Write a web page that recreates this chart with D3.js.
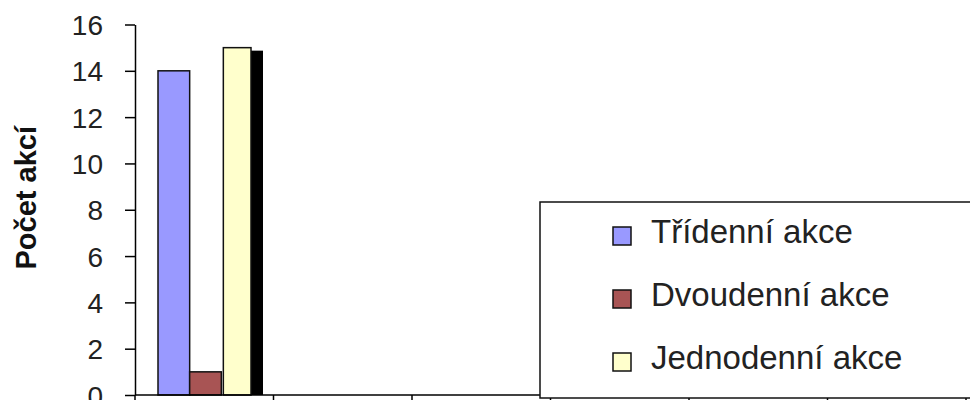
<!DOCTYPE html>
<html>
<head>
<meta charset="utf-8">
<script src="https://cdn.jsdelivr.net/npm/d3@7"></script>
<style>
	body { margin: 0; background: #fff; }
	svg { display: block; font-family: "Liberation Sans", Arial, sans-serif; }
	.axis path, .axis line { stroke: #000; stroke-width: 1.5; }
	.axis text { font-size: 28px; fill: #222; }
</style>
</head>
<body>
<div id="chart"></div>
<script>
// data (category names fall below the visible area)
var categories = ["1", "2", "3", "4", "5", "6"];
var seriesNames = ["Třídenní akce", "Dvoudenní akce", "Jednodenní akce"];
var seriesColors = ["#9999ff", "#a85454", "#ffffcc"];
var tridenni = [14, null, null, null, null, null];
var dvoudenni = [1, null, null, null, null, null];
var jednodenni = [15, null, null, null, null, null];
var yTicks = [0, 2, 4, 6, 8, 10, 12, 14, 16];

var values = [tridenni, dvoudenni, jednodenni];

var width = 970,
	height = 400,
	margin = {top: 24.5, left: 135, bottom: 5, right: 4};

var svg = d3.select("#chart").append("svg")
	.attr("width", width)
	.attr("height", height);

var x0 = d3.scaleBand()
	.domain(categories)
	.range([margin.left, width - margin.right]);

var x1 = d3.scaleBand()
	.domain(seriesNames)
	.range([23, 118]);

var y = d3.scaleLinear()
	.domain([0, 16])
	.range([height - margin.bottom, margin.top]);

/* bars */

var bars = [];
values.forEach(function(arr, s) {
	arr.forEach(function(v, i) {
		if (v != null) bars.push({cat: categories[i], s: s, v: v});
	});
});

var g = svg.append("g");

// shadow behind the last series
g.selectAll(".shadow")
	.data(bars.filter(function(d) { return d.s == 2; }))
	.enter().append("rect")
	.attr("class", "shadow")
	.attr("x", function(d) { return x0(d.cat) + x1(seriesNames[d.s]) + 14; })
	.attr("y", function(d) { return y(d.v) + 3; })
	.attr("width", x1.bandwidth() - 4)
	.attr("height", function(d) { return y(0) - y(d.v) - 3; })
	.attr("fill", "#000");

g.selectAll(".bar")
	.data(bars)
	.enter().append("rect")
	.attr("class", "bar")
	.attr("x", function(d) { return x0(d.cat) + x1(seriesNames[d.s]) + (d.s == 2 ? 2 : 0); })
	.attr("y", function(d) { return y(d.v); })
	.attr("width", function(d) { return x1.bandwidth() - (d.s == 2 ? 4 : 0); })
	.attr("height", function(d) { return y(0) - y(d.v); })
	.attr("fill", function(d) { return seriesColors[d.s]; })
	.attr("stroke", "#111")
	.attr("stroke-width", 1.5);

/* axes */

svg.append("g")
	.attr("class", "axis axis--y")
	.attr("transform", "translate(" + margin.left + ",0)")
	.call(d3.axisLeft(y).tickValues(yTicks).tickSize(10).tickPadding(22).tickSizeOuter(0))
	.call(function(a) { a.selectAll("text").attr("dy", "0.36em"); });

var xAxis = svg.append("g")
	.attr("class", "axis axis--x");

xAxis.append("line")
	.attr("x1", x0.range()[0])
	.attr("x2", x0.range()[1])
	.attr("y1", y(0))
	.attr("y2", y(0));

// ticks on category boundaries
var bounds = categories.map(function(c) { return x0(c); }).concat([x0.range()[1]]);
xAxis.selectAll(".tk")
	.data(bounds)
	.enter().append("line")
	.attr("x1", function(d) { return d; })
	.attr("x2", function(d) { return d; })
	.attr("y1", y(0))
	.attr("y2", y(0) + 8);

svg.append("text")
	.attr("transform", "translate(36," + (y(8) - 12) + ") rotate(-90)")
	.attr("text-anchor", "middle")
	.style("font-size", "29px")
	.style("font-weight", "bold")
	.attr("fill", "#111")
	.text("Počet akcí");

/* legend */

var legend = svg.append("g")
	.attr("transform", "translate(540,202)");

legend.append("rect")
	.attr("width", 440)
	.attr("height", 196)
	.attr("fill", "#fff")
	.attr("stroke", "#111")
	.attr("stroke-width", 1.5);

var item = legend.selectAll(".item")
	.data(seriesNames)
	.enter().append("g")
	.attr("transform", function(d, i) { return "translate(0," + (41 + i * 63) + ")"; });

item.append("rect")
	.attr("x", 73)
	.attr("y", -16)
	.attr("width", 18)
	.attr("height", 18)
	.attr("fill", function(d, i) { return seriesColors[i]; })
	.attr("stroke", "#111")
	.attr("stroke-width", 1.5);

item.append("text")
	.attr("x", 111)
	.style("font-size", "33px")
	.attr("fill", "#222")
	.text(function(d) { return d; });
</script>
</body>
</html>
